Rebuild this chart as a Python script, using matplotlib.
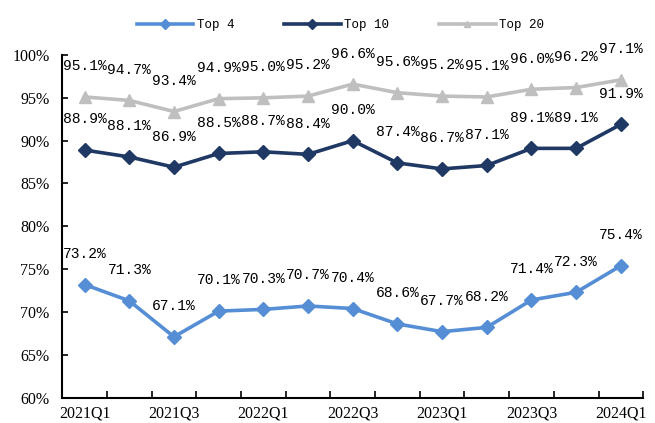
import matplotlib
matplotlib.use("Agg")
import matplotlib.pyplot as plt
import numpy as np

quarters = ["2021Q1", "2021Q2", "2021Q3", "2021Q4", "2022Q1", "2022Q2", "2022Q3",
            "2022Q4", "2023Q1", "2023Q2", "2023Q3", "2023Q4", "2024Q1"]
top4 = [73.2, 71.3, 67.1, 70.1, 70.3, 70.7, 70.4, 68.6, 67.7, 68.2, 71.4, 72.3, 75.4]
top10 = [88.9, 88.1, 86.9, 88.5, 88.7, 88.4, 90.0, 87.4, 86.7, 87.1, 89.1, 89.1, 91.9]
top20 = [95.1, 94.7, 93.4, 94.9, 95.0, 95.2, 96.6, 95.6, 95.2, 95.1, 96.0, 96.2, 97.1]
yticks = [60, 65, 70, 75, 80, 85, 90, 95, 100]

series = [("Top 4", top4, "#558ED5", "D"),
          ("Top 10", top10, "#1F3864", "D"),
          ("Top 20", top20, "#BFBFBF", "^")]

fig = plt.figure(figsize=(6.55, 4.23), dpi=100)
ax = fig.add_axes([0.095, 0.06, 0.887, 0.81])
x = np.arange(len(quarters))
mono = "Liberation Mono"
serif = "Liberation Serif"

handles = []
for name, vals, col, mk in series:
    ax.plot(x, vals, color=col, lw=2.6, marker=mk, markersize=7 if mk == "D" else 8,
            solid_joinstyle="miter")
    h, = ax.plot([], [], color=col, lw=2.6, marker=mk, markersize=5, label=name)
    handles.append(h)
    for xi, v in zip(x, vals):
        ax.annotate(f"{v:.1f}%", (xi, v), xytext=(0, 17), textcoords="offset points",
                    ha="center", va="bottom", fontsize=10.5, family=mono, color="#000000")

ax.set_xlim(-0.5, len(quarters) - 0.5)
ax.set_ylim(60, 100)
ax.set_yticks(yticks)
ax.set_yticklabels([f"{t}%" for t in yticks], family=serif, fontsize=11.5)
ax.set_xticks(x[::2])
ax.set_xticklabels(quarters[::2], family=serif, fontsize=11.5)
ax.set_xticks(np.arange(-0.5, len(quarters), 1), minor=True)
ax.tick_params(axis="x", which="major", length=0, pad=6)
ax.tick_params(axis="x", which="minor", direction="in", length=5, width=1.2)
ax.tick_params(axis="y", direction="in", length=4, width=1.2, pad=9)
for s in ["top", "right"]:
    ax.spines[s].set_visible(False)
for s in ["left", "bottom"]:
    ax.spines[s].set_linewidth(1.5)

leg = fig.legend(handles=handles, loc="center", bbox_to_anchor=(0.52, 0.94), ncol=3,
                 frameon=False, prop={"family": mono, "size": 9}, handlelength=4.5,
                 columnspacing=4.0, handletextpad=0.3)
fig.savefig("out.png", dpi=100)
